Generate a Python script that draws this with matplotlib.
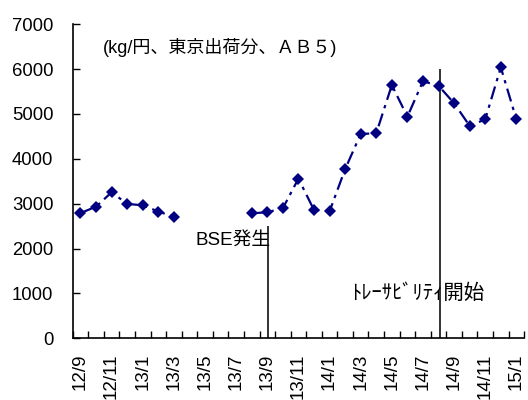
import numpy as np
import matplotlib
matplotlib.use("Agg")
import matplotlib.pyplot as plt

plt.rcParams['font.family'] = ['Liberation Sans', 'Noto Sans CJK JP', 'DejaVu Sans']

# months from 2012/9 to 2015/1 (13/4 - 13/7: no shipments)
months = ['12/9', '12/10', '12/11', '12/12', '13/1', '13/2', '13/3', '13/4',
          '13/5', '13/6', '13/7', '13/8', '13/9', '13/10', '13/11', '13/12',
          '14/1', '14/2', '14/3', '14/4', '14/5', '14/6', '14/7', '14/8',
          '14/9', '14/10', '14/11', '14/12', '15/1']
price = [2790, 2935, 3255, 2995, 2965, 2825, 2710, np.nan,
         np.nan, np.nan, np.nan, 2785, 2810, 2900, 3560, 2860,
         2830, 3770, 4555, 4570, 5645, 4940, 5730, 5630,
         5240, 4735, 4880, 6040, 4880]

bse_pos, bse_top = 12.05, 2500
trace_pos, trace_top = 23.1, 6000

x = np.arange(len(months))

fig = plt.figure(figsize=(5.28, 4.0), dpi=100)
ax = fig.add_axes([0.1377, 0.1543, 0.855, 0.785])

ax.plot(x, price, color='#000080', lw=1.6, linestyle=(0, (6, 2.5, 1.5, 2.5)),
        marker='D', markersize=5.8, markeredgewidth=0, zorder=3)

ax.vlines([bse_pos], 0, bse_top, color='#222222', lw=1.3)
ax.vlines([trace_pos], 0, trace_top, color='#222222', lw=1.3)

ax.text(12.2, 2190, 'BSE発生', ha='right', va='center', fontsize=13.5)
ax.text(17.4, 1000, 'ﾄﾚｰｻﾋﾞﾘﾃｨ開始', ha='left', va='center', fontsize=14.8)
ax.text(0.067, 0.925, '(kg/円、東京出荷分、ＡＢ５)', transform=ax.transAxes,
        ha='left', va='center', fontsize=13)

ax.set_xlim(-0.5, len(months) - 0.5)
ax.set_ylim(0, 7000)
ax.set_yticks(np.arange(0, 7001, 1000))

ax.set_xticks(x[::2])
ax.set_xticklabels(months[::2], rotation=90, fontsize=13.5)
ax.set_xticks(np.arange(-0.5, len(months), 1.0), minor=True)
ax.tick_params(axis='x', which='major', length=0, pad=11)
ax.tick_params(axis='x', which='minor', direction='in', length=5, width=1)
ax.tick_params(axis='y', direction='in', length=5, width=1, pad=14, labelsize=13.3)

for side in ['top', 'right']:
    ax.spines[side].set_visible(False)
for side in ['left', 'bottom']:
    ax.spines[side].set_linewidth(1.2)

fig.savefig('out.png', dpi=100)
